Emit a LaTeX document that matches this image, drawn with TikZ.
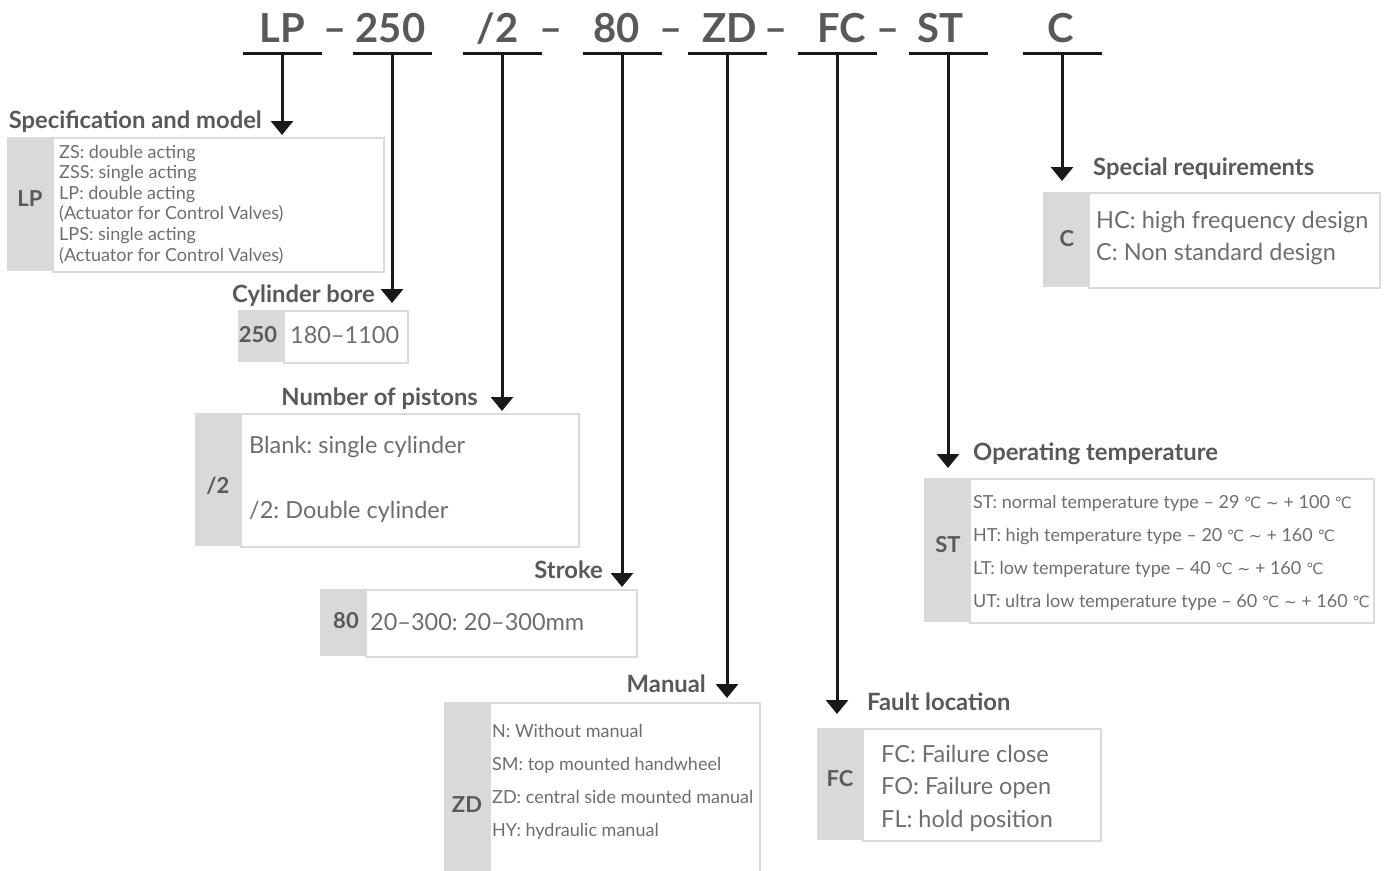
\documentclass[tikz,border=0pt]{standalone}
\usepackage{fontspec}
\setmainfont{Lato}
\newfontfamily\symfont{DejaVu Sans}
\usepackage{xcolor}
\usetikzlibrary{arrows.meta,positioning}
\frenchspacing

\definecolor{codegray}{HTML}{595959}
\definecolor{keyfill}{HTML}{D9D9D9}
\definecolor{boxline}{HTML}{DADADA}
\definecolor{bodygray}{HTML}{6E6E6E}
\newcommand{\degc}{{\symfont\fontsize{15.5}{15.5}\selectfont ℃}}
\newcommand{\tld}{{\symfont\fontsize{15.5}{15.5}\selectfont ∼}}

\begin{document}
\begin{tikzpicture}[
		x=1pt, y=-1pt,
		code/.style={text=codegray, font=\fontsize{40}{40}\selectfont\bfseries, inner sep=0pt, anchor=base},
		underline/.style={line width=3pt, black!90},
		pointer/.style={line width=3pt, black!90, -{Triangle[width=22pt,length=14pt]}},
		head/.style={text=codegray, font=\fontsize{23.8}{24}\selectfont\bfseries, inner sep=0pt},
		keybox/.style={fill=keyfill, minimum width=45pt, inner sep=0pt, anchor=north west},
		keytxt/.style={text=codegray, font=\fontsize{22}{22}\selectfont\bfseries, inner sep=0pt, anchor=base},
		descbox/.style={draw=boxline, fill=white, line width=1.5pt, inner sep=0pt, anchor=north west},
		small/.style={text=bodygray, font=\fontsize{18}{18}\selectfont, inner sep=0pt, anchor=base west},
		large/.style={text=bodygray, font=\fontsize{23.5}{24}\selectfont, inner sep=0pt, anchor=base west}
		]
		\useasboundingbox (0,0) rectangle (1386,870);
		\clip (0,0) rectangle (1386,870);
		% Code row
		\node[code] (cLP) at (282.5,42) {LP};
		\node[code] (d1) at (335,42) {–};
		\node[code] (c250) at (390.5,42) {250};
		\node[code] (cP) at (497.5,42) {/2};
		\node[code] (d2) at (551.5,42) {–};
		\node[code] (c80) at (616.5,42) {80};
		\node[code] (d3) at (671.5,42) {–};
		\node[code] (cZD) at (730,42) {ZD};
		\node[code] (d4) at (776,42) {–};
		\node[code] (cFC) at (841.5,42) {FC};
		\node[code] (d5) at (888.5,42) {–};
		\node[code] (cST) at (940,42) {ST};
		\node[code] (cC) at (1060.5,42) {C};
		% Underlines and pointers
		\coordinate (uLP) at (282,53);   \coordinate (tLP) at (282,135);
		\coordinate (u250) at (392,53);  \coordinate (t250) at (392,303);
		\coordinate (uP) at (502,53);    \coordinate (tP) at (502,411);
		\coordinate (u80) at (622,53);   \coordinate (t80) at (622,587);
		\coordinate (uZD) at (727,53);   \coordinate (tZD) at (727,698);
		\coordinate (uFC) at (837,53);   \coordinate (tFC) at (837,714);
		\coordinate (uST) at (948,53);   \coordinate (tST) at (948,468);
		\coordinate (uC) at (1062,53);   \coordinate (tC) at (1062,181);
		\foreach \u in {LP,250,P,80,ZD,FC,ST,C}{
			\draw[underline] ([xshift=-39.5pt]u\u) -- ([xshift=39.5pt]u\u);
			\draw[pointer] (u\u) -- (t\u);
		}
		% LP: specification and model
		\node[head, anchor=base east] (hLP) at (262,128) {Specification and model};
		\node[descbox, minimum width=331pt, minimum height=134pt] (dLP) at (52,137) {};
		\node[keybox, minimum height=134pt, left=0pt of dLP.north west, anchor=north east] (kLP) {};
		\node[keytxt] (lLP) at (30,206) {LP};
		\foreach \txt [count=\i from 0] in {ZS: double acting, ZSS: single acting, LP: double acting,
			(Actuator for Control Valves), LPS: single acting, (Actuator for Control Valves)}
			\node[small] at (59,158+20.6*\i) {\txt};
		% 250: cylinder bore
		\node[head, anchor=base east] (h250) at (375,302) {Cylinder bore};
		\node[descbox, minimum width=124pt, minimum height=52pt] (d250) at (283,310) {};
		\node[keybox, minimum height=52pt, anchor=north east] (k250) at (d250.north west) {};
		\node[keytxt] (l250) at (258,342) {250};
		\node[large] (t250a) at (290,343) {180–1100};
		% /2: number of pistons
		\node[head, anchor=base east] (hP) at (478,405) {Number of pistons};
		\node[descbox, minimum width=338pt, minimum height=133pt] (dP) at (240,413) {};
		\node[keybox, minimum height=133pt, anchor=north east] (kP) at (dP.north west) {};
		\node[keytxt] (lP) at (218,493) {/2};
		\node[large] (tPa) at (249,453) {Blank: single cylinder};
		\node[large] (tPb) at (249,518) {/2: Double cylinder};
		% 80: stroke
		\node[head, anchor=base east] (h80) at (603,578) {Stroke};
		\node[descbox, minimum width=271pt, minimum height=67pt] (d80) at (365,589) {};
		\node[keybox, minimum height=67pt, anchor=north east] (k80) at (d80.north west) {};
		\node[keytxt] (l80) at (346,628) {80};
		\node[large] (t80a) at (370,630) {20–300: 20–300mm};
		% ZD: manual
		\node[head, anchor=base east] (hZD) at (706,692) {Manual};
		\node[descbox, minimum width=270pt, minimum height=190pt] (dZD) at (489,702) {};
		\node[keybox, minimum height=190pt, anchor=north east] (kZD) at (dZD.north west) {};
		\node[keytxt] (lZD) at (467,812) {ZD};
		\foreach \txt [count=\i from 0] in {N: Without manual, SM: top mounted handwheel,
			ZD: central side mounted manual, HY: hydraulic manual}
			\node[small] at (492,737+33*\i) {\txt};
		% FC: fault location
		\node[head, anchor=base west] (hFC) at (867,710) {Fault location};
		\node[descbox, minimum width=238pt, minimum height=112pt] (dFC) at (862,728) {};
		\node[keybox, minimum height=112pt, anchor=north east] (kFC) at (dFC.north west) {};
		\node[keytxt] (lFC) at (840,786) {FC};
		\foreach \txt [count=\i from 0] in {FC: Failure close, FO: Failure open, FL: hold position}
			\node[large] at (881,762+32.5*\i) {\txt};
		% ST: operating temperature
		\node[head, anchor=base west] (hST) at (973,460) {Operating temperature};
		\node[descbox, minimum width=404pt, minimum height=144pt] (dST) at (969,478) {};
		\node[keybox, minimum height=144pt, anchor=north east] (kST) at (dST.north west) {};
		\node[keytxt] (lST) at (948,552) {ST};
		\foreach \txt [count=\i from 0] in {ST: normal temperature type – 29 \degc\ \tld\ + 100 \degc,
			HT: high temperature type – 20 \degc\ \tld\ + 160 \degc,
			LT: low temperature type – 40 \degc\ \tld\ + 160 \degc,
			UT: ultra low temperature type – 60 \degc\ \tld\ + 160 \degc}
			\node[small] at (973,508+33.3*\i) {\txt};
		% C: special requirements
		\node[head, anchor=base west] (hC) at (1093,175) {Special requirements};
		\node[descbox, minimum width=291pt, minimum height=95pt] (dC) at (1088,192) {};
		\node[keybox, minimum height=95pt, anchor=north east] (kC) at (dC.north west) {};
		\node[keytxt] (lC) at (1067,246) {C};
		\node[large] (tCa) at (1096,228) {HC: high frequency design};
		\node[large] (tCb) at (1096,260) {C: Non standard design};
	\end{tikzpicture}
\end{document}
